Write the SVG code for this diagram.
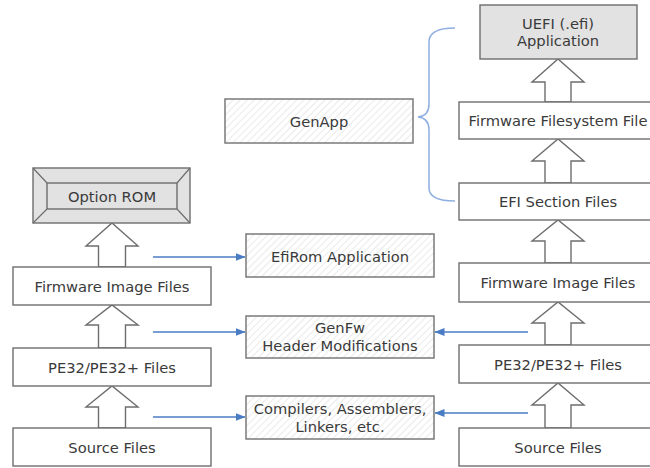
<svg xmlns="http://www.w3.org/2000/svg" width="650" height="468" viewBox="0 0 650 468">
<defs>
<pattern id="hatch" width="5" height="5" patternUnits="userSpaceOnUse" patternTransform="rotate(45)">
<rect width="5" height="5" fill="#ffffff"/>
<line x1="0" y1="0" x2="0" y2="5" stroke="#dcdcdc" stroke-width="1.2"/>
</pattern>
<marker id="ah" viewBox="0 0 10 8" refX="9.5" refY="4" markerWidth="10" markerHeight="8" markerUnits="userSpaceOnUse" orient="auto">
<path d="M0,0 L10,4 L0,8 z" fill="#4a7cc4"/>
</marker>
</defs>
<style>
.box{fill:#ffffff;stroke:#6e6e6e;stroke-width:1.4}
.gray{fill:#e2e2e2;stroke:#6e6e6e;stroke-width:1.4}
.tool{fill:url(#hatch);stroke:#7a7a7a;stroke-width:1.5}
.up{fill:#ffffff;stroke:#6e6e6e;stroke-width:1.4;stroke-linejoin:miter}
.blue{fill:none;stroke:#4a7cc4;stroke-width:1.6}
.brace{fill:none;stroke:#8eaee0;stroke-width:1.5}
text{font-family:"DejaVu Sans","Verdana",sans-serif;font-size:14.7px;fill:#3a3a3a;text-anchor:middle;dominant-baseline:central}
</style>
<rect width="650" height="468" fill="#ffffff"/>

<g id="connectors">
<polygon class="up" points="98.5,267 98.5,246 86,246 112,223 138,246 125.5,246 125.5,267"/>
<polygon class="up" points="98.5,348 98.5,325 86,325 112,305 138,325 125.5,325 125.5,348"/>
<polygon class="up" points="98.5,428 98.5,407 86,407 112,386 138,407 125.5,407 125.5,428"/>
<polygon class="up" points="545,102 545,82 532,82 558,59 584,82 571,82 571,102"/>
<polygon class="up" points="545,183 545,161 532,161 558,139 584,161 571,161 571,183"/>
<polygon class="up" points="545,263 545,241 532,241 558,220 584,241 571,241 571,263"/>
<polygon class="up" points="545,345 545,323 532,323 558,302 584,323 571,323 571,345"/>
<polygon class="up" points="545,428 545,405 532,405 558,383 584,405 571,405 571,428"/>
<line class="blue" x1="153" y1="257" x2="245" y2="257" marker-end="url(#ah)"/>
<line class="blue" x1="153" y1="332" x2="245" y2="332" marker-end="url(#ah)"/>
<line class="blue" x1="153" y1="417" x2="245" y2="417" marker-end="url(#ah)"/>
<line class="blue" x1="528" y1="332" x2="435" y2="332" marker-end="url(#ah)"/>
<line class="blue" x1="528" y1="413" x2="435" y2="413" marker-end="url(#ah)"/>
<path class="brace" d="M455,28 Q429,28 429,42 L429,104 Q429,116 418,117 Q429,118 429,130 L429,188 Q429,201 455,201"/>
</g>

<g id="option-rom">
<rect class="gray" x="33" y="168" width="157" height="55"/>
<rect class="gray" x="47" y="183" width="130" height="26"/>
<path d="M33,168 L47,183 M190,168 L177,183 M33,223 L47,209 M190,223 L177,209" stroke="#6e6e6e" stroke-width="1.2" fill="none"/>
<text x="112" y="196">Option ROM</text>
</g>
<g id="left-fw-image">
<rect class="box" x="13" y="267" width="198" height="38"/>
<text x="112" y="286">Firmware Image Files</text>
</g>
<g id="left-pe32">
<rect class="box" x="13" y="348" width="198" height="38"/>
<text x="112" y="367">PE32/PE32+ Files</text>
</g>
<g id="left-source">
<rect class="box" x="13" y="428" width="198" height="38"/>
<text x="112" y="447">Source Files</text>
</g>

<g id="genapp">
<rect class="tool" x="225" y="99" width="188" height="44"/>
<text x="319" y="121">GenApp</text>
</g>
<g id="efirom">
<rect class="tool" x="246" y="234" width="188" height="43"/>
<text x="340" y="256">EfiRom Application</text>
</g>
<g id="genfw">
<rect class="tool" x="246" y="316" width="188" height="42"/>
<text x="340" y="327">GenFw</text>
<text x="340" y="345">Header Modifications</text>
</g>
<g id="compilers">
<rect class="tool" x="246" y="396" width="188" height="43"/>
<text x="340" y="408">Compilers, Assemblers,</text>
<text x="340" y="426">Linkers, etc.</text>
</g>

<g id="uefi-app">
<rect class="gray" x="480" y="5" width="157" height="54"/>
<text x="558" y="23">UEFI (.efi)</text>
<text x="558" y="40">Application</text>
</g>
<g id="ffs-file">
<rect class="box" x="459" y="102" width="198" height="37"/>
<text x="558" y="120">Firmware Filesystem File</text>
</g>
<g id="efi-section">
<rect class="box" x="459" y="183" width="198" height="37"/>
<text x="558" y="201">EFI Section Files</text>
</g>
<g id="right-fw-image">
<rect class="box" x="459" y="263" width="198" height="39"/>
<text x="558" y="282">Firmware Image Files</text>
</g>
<g id="right-pe32">
<rect class="box" x="459" y="345" width="198" height="38"/>
<text x="558" y="364">PE32/PE32+ Files</text>
</g>
<g id="right-source">
<rect class="box" x="459" y="428" width="198" height="38"/>
<text x="558" y="447">Source Files</text>
</g>
</svg>
